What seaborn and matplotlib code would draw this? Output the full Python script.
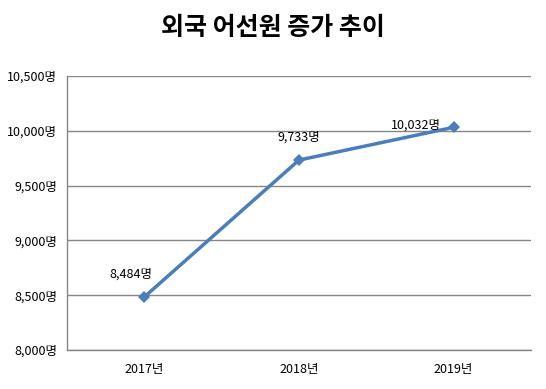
import matplotlib
matplotlib.use("Agg")
import matplotlib.pyplot as plt
import pandas as pd
import seaborn as sns

years = ['2017년', '2018년', '2019년']
crew = [8484, 9733, 10032]
yticks = [8000, 8500, 9000, 9500, 10000, 10500]

df = pd.DataFrame({'year': years, 'crew': crew})

sns.set_style('white')
plt.rcParams['font.family'] = ['Noto Sans CJK KR', 'DejaVu Sans']
plt.rcParams['text.color'] = 'black'
plt.rcParams['xtick.color'] = 'black'
plt.rcParams['ytick.color'] = 'black'

fig = plt.figure(figsize=(5.46, 3.89), dpi=100)
ax = fig.add_axes([67/546, 1-350/389, (531-67)/546, (350-76)/389])

sns.lineplot(x=range(len(years)), y='crew', data=df, color='#4a7ebb', linewidth=2.5,
             marker='D', markersize=6, markeredgewidth=0, ax=ax)

# label offsets (points) roughly like the excel placement
offsets = [(-10, 12), (0, 12), (-27, -3)]
for i, v in enumerate(crew):
    ax.annotate(f'{v:,}명', (i, v), xytext=offsets[i], textcoords='offset points',
                ha='center', va='bottom', fontsize=9, color='black')

ax.set_xlim(-0.5, 2.5)
ax.set_ylim(8000, 10500)
ax.set_yticks(yticks)
ax.set_yticklabels([f'{t:,}명' for t in yticks], fontsize=9)
ax.set_xticks([-0.5, 0.5, 1.5, 2.5])
ax.set_xticklabels([])
ax.set_xticks(range(len(years)), minor=True)
ax.set_xticklabels(years, minor=True, fontsize=9)
ax.tick_params(axis='x', which='minor', length=0, pad=9)
ax.tick_params(axis='x', which='major', length=5, color='#868686', direction='out')
ax.tick_params(axis='y', length=5, color='#868686', labelcolor='black', direction='out', pad=2)
ax.grid(axis='y', color='#868686', linewidth=1)
ax.set_xlabel('')
ax.set_ylabel('')
for s in ['top', 'right']:
    ax.spines[s].set_visible(False)
for s in ['left', 'bottom']:
    ax.spines[s].set_color('#868686')
    ax.spines[s].set_linewidth(1)

fig.suptitle('외국 어선원 증가 추이', y=1-28/389, va='center', fontsize=18,
             fontweight='bold', color='black')
fig.savefig('out.png', dpi=100)
